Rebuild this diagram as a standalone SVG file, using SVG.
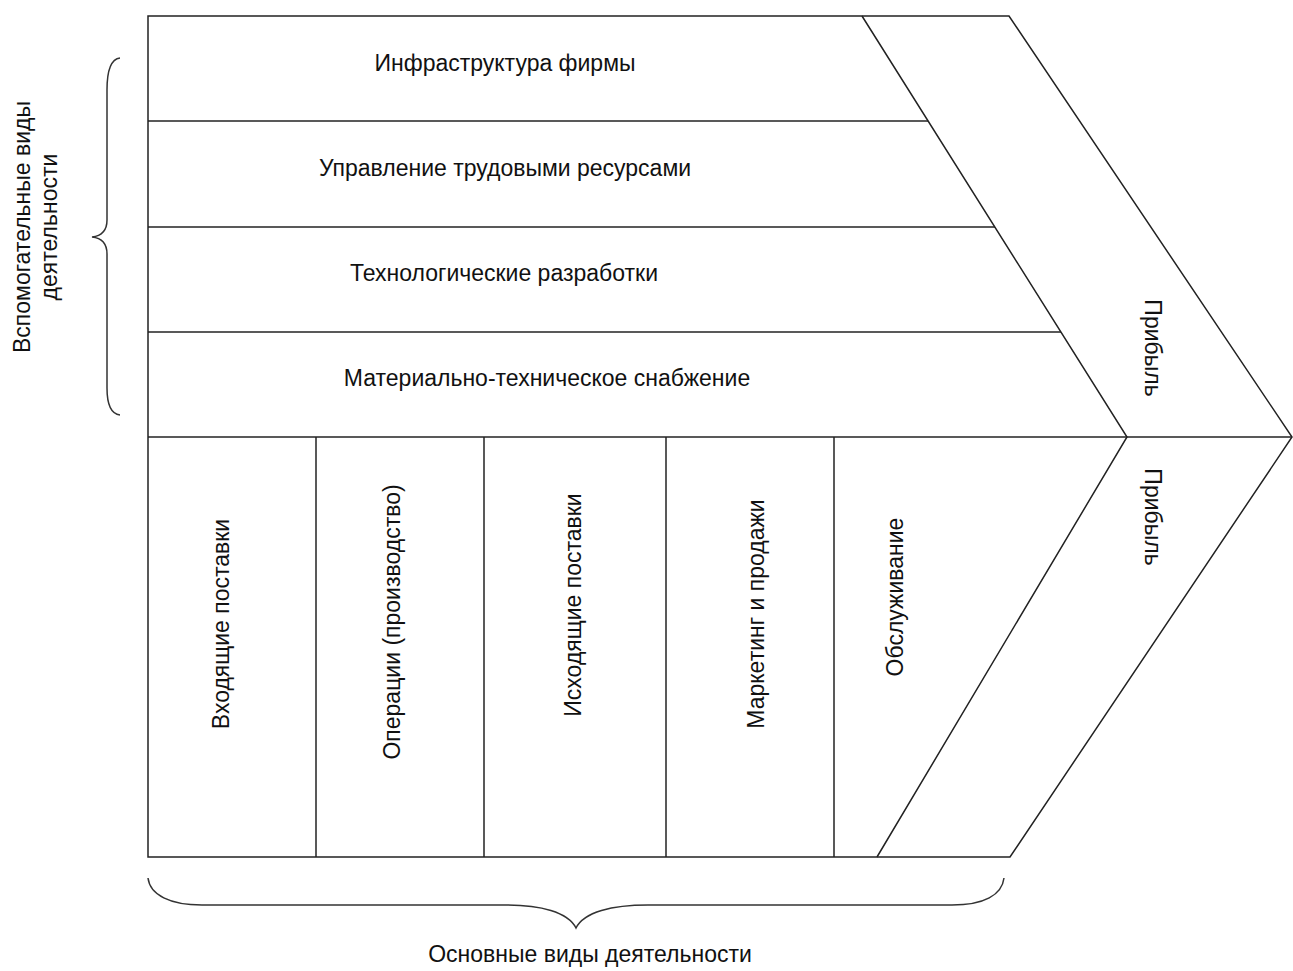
<svg xmlns="http://www.w3.org/2000/svg" width="1293" height="971" viewBox="0 0 1293 971">
<style>
.ln{fill:none;stroke:#222;stroke-width:1.5}
.br{fill:none;stroke:#333;stroke-width:1.5}
.t{font-family:"Liberation Sans",Arial,sans-serif;font-size:23px;fill:#111;text-anchor:middle}
</style>
<rect width="1293" height="971" fill="#fff"/>
<g id="connectors">
<polygon class="ln" points="148,16 1009,16 1292,437 1010,857 148,857"/>
<polyline class="ln" points="862,16 1127,437 877,857"/>
<line class="ln" x1="148" y1="121" x2="928" y2="121"/>
<line class="ln" x1="148" y1="227" x2="995" y2="227"/>
<line class="ln" x1="148" y1="332" x2="1061" y2="332"/>
<line class="ln" x1="148" y1="437" x2="1292" y2="437"/>
<line class="ln" x1="316" y1="437" x2="316" y2="857"/>
<line class="ln" x1="484" y1="437" x2="484" y2="857"/>
<line class="ln" x1="666" y1="437" x2="666" y2="857"/>
<line class="ln" x1="834" y1="437" x2="834" y2="857"/>
<path class="br" d="M120,58 C111,59 107,70 107,90 L107,220 C107,231 101,236 92,237 C101,238 107,243 107,254 L107,388 C107,404 111,414 120,415"/>
<path class="br" d="M148,878 C150,895 170,905 202,905 L507,905 C540,905 568,912 576,928 C584,912 612,905 648,905 L952,905 C984,905 1002,895 1004,878"/>
</g>
<g id="infra"><text class="t" x="505" y="71">Инфраструктура фирмы</text></g>
<g id="hr"><text class="t" x="505" y="176">Управление трудовыми ресурсами</text></g>
<g id="tech"><text class="t" x="504" y="281">Технологические разработки</text></g>
<g id="supply"><text class="t" x="547" y="386">Материально-техническое снабжение</text></g>
<g id="inbound"><text class="t" transform="translate(229,624) rotate(-90)">Входящие поставки</text></g>
<g id="operations"><text class="t" transform="translate(400,622) rotate(-90)">Операции (производство)</text></g>
<g id="outbound"><text class="t" transform="translate(581,605) rotate(-90)">Исходящие поставки</text></g>
<g id="marketing"><text class="t" transform="translate(764,614) rotate(-90)">Маркетинг и продажи</text></g>
<g id="service"><text class="t" transform="translate(903,597) rotate(-90)">Обслуживание</text></g>
<g id="profit-top"><text class="t" transform="translate(1145,348) rotate(90)">Прибыль</text></g>
<g id="profit-bottom"><text class="t" transform="translate(1145,517) rotate(90)">Прибыль</text></g>
<g id="support-label"><text class="t" transform="translate(30,227) rotate(-90)">Вспомогательные виды</text><text class="t" transform="translate(57,227) rotate(-90)">деятельности</text></g>
<g id="primary-label"><text class="t" x="590" y="962">Основные виды деятельности</text></g>
</svg>
